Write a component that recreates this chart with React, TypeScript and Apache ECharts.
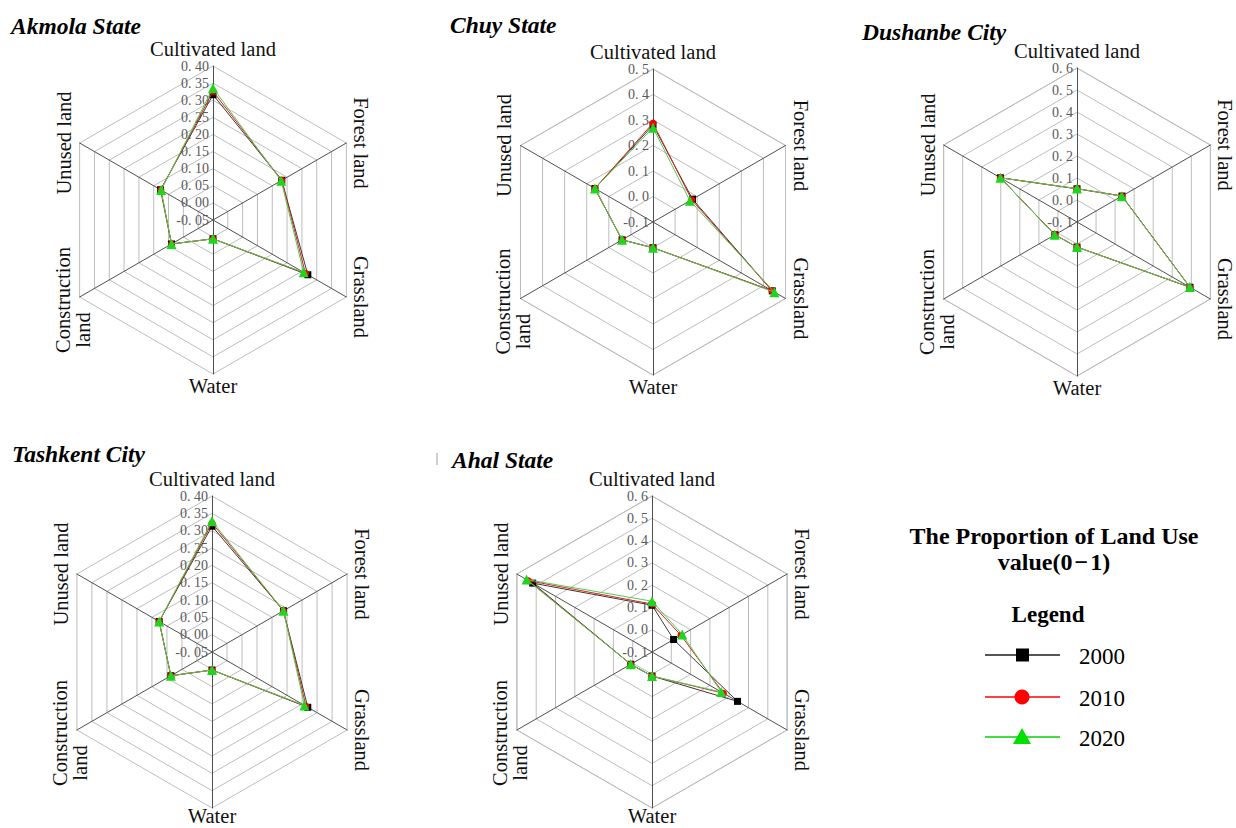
import React, { useEffect, useRef } from 'react';
import * as echarts from 'echarts';

// Land-use categories, in reading order
const categories = ['Cultivated land', 'Forest land', 'Grassland', 'Water', 'Construction land', 'Unused land'];
const years = ['2000', '2010', '2020'];
const regionNames = ['Akmola State', 'Chuy State', 'Dushanbe City', 'Tashkent City', 'Ahal State'];

// Proportion of each land-use type: [Cultivated, Forest, Grassland, Water, Construction, Unused]
const akmola2000 = [0.316, 0.182, 0.270, 0.005, 0.090, 0.127];
const akmola2010 = [0.326, 0.182, 0.262, 0.005, 0.090, 0.126];
const akmola2020 = [0.336, 0.180, 0.256, 0.005, 0.090, 0.125];

const chuy2000 = [0.280, 0.079, 0.440, 0.001, 0.040, 0.163];
const chuy2010 = [0.288, 0.075, 0.438, 0.001, 0.040, 0.163];
const chuy2020 = [0.270, 0.067, 0.450, 0.001, 0.040, 0.163];

const dushanbe2000 = [0.051, 0.136, 0.493, 0.014, 0.016, 0.302];
const dushanbe2010 = [0.051, 0.136, 0.493, 0.014, 0.016, 0.302];
const dushanbe2020 = [0.052, 0.135, 0.492, 0.014, 0.017, 0.302];

const tashkent2000 = [0.313, 0.188, 0.269, 0.002, 0.087, 0.126];
const tashkent2010 = [0.322, 0.188, 0.263, 0.002, 0.087, 0.126];
const tashkent2020 = [0.328, 0.188, 0.258, 0.002, 0.087, 0.126];

const ahal2000 = [0.110, 0.012, 0.343, 0.008, 0.010, 0.518];
const ahal2010 = [0.115, 0.050, 0.270, 0.008, 0.010, 0.540];
const ahal2020 = [0.128, 0.057, 0.259, 0.008, 0.010, 0.550];

const regionValues = [
  [akmola2000, akmola2010, akmola2020],
  [chuy2000, chuy2010, chuy2020],
  [dushanbe2000, dushanbe2010, dushanbe2020],
  [tashkent2000, tashkent2010, tashkent2020],
  [ahal2000, ahal2010, ahal2020],
];

// Radial axis range per region
const axisMin = [-0.05, -0.1, -0.1, -0.05, -0.1];
const axisMax = [0.4, 0.5, 0.6, 0.4, 0.6];
const axisStep = [0.05, 0.1, 0.1, 0.05, 0.1];
const labelDigits = [2, 1, 1, 2, 1];

// ---- layout ----
const W = 1236;
const H = 828;
const centers: [number, number][] = [
  [213, 220],
  [653, 222],
  [1077, 222],
  [212, 652],
  [652, 652],
];
const radii = [154, 153, 154, 156, 156];
const titlePos: [number, number][] = [
  [11, 26],
  [450, 25],
  [862, 32],
  [12, 454],
  [452, 460],
];

// ECharts lays indicators counter-clockwise from the top
const radarOrder = [0, 5, 4, 3, 2, 1];

const yearStyle = [
  { line: '#3a3a3a', fill: '#000000', symbol: 'rect', size: 7 },
  { line: '#e02020', fill: '#ff0000', symbol: 'circle', size: 7 },
  { line: '#4fcf4f', fill: '#1ed61e', symbol: 'triangle', size: 10 },
];

const serif = '"Liberation Serif", "Times New Roman", serif';

function tickFormatter(digits: number) {
  return (v: number) => {
    let n = Number(v);
    if (Math.abs(n) < 1e-9) n = 0;
    const s = n.toFixed(digits);
    return s.replace('.', '. ');
  };
}

function buildOption() {
  const radar = regionNames.map((_, r) => ({
    center: centers[r],
    radius: radii[r],
    startAngle: 90,
    shape: 'polygon',
    splitNumber: Math.round((axisMax[r] - axisMin[r]) / axisStep[r]),
    indicator: radarOrder.map((ci, k) => {
      const ind: any = { name: categories[ci], min: axisMin[r], max: axisMax[r] };
      if (k === 0) {
        ind.axisLabel = {
          show: true,
          color: '#5a5a5a',
          fontSize: 14,
          fontFamily: serif,
          margin: 4,
          formatter: tickFormatter(labelDigits[r]),
        };
      }
      return ind;
    }),
    axisName: { show: false },
    axisLine: { lineStyle: { color: '#505050', width: 1 } },
    axisTick: { show: false },
    axisLabel: { show: false },
    splitLine: { lineStyle: { color: '#bdbdbd', width: 1 } },
    splitArea: { show: false },
  }));

  const series: any[] = [];
  regionValues.forEach((vals, r) => {
    vals.forEach((v, y) => {
      const st = yearStyle[y];
      series.push({
        type: 'radar',
        radarIndex: r,
        name: years[y],
        z: 2 + y,
        symbol: st.symbol,
        symbolSize: st.size,
        lineStyle: { color: st.line, width: 1 },
        itemStyle: { color: st.fill, borderWidth: 0 },
        data: [{ name: years[y], value: radarOrder.map((i) => v[i]) }],
      });
    });
  });

  const graphic: any[] = [];
  const nameStyle = { fontFamily: serif, fontSize: 20.5, fill: '#111' };
  regionNames.forEach((title, r) => {
    const [cx, cy] = centers[r];
    const R = radii[r];
    const hx = R * Math.cos(Math.PI / 6);
    const hy = R * 0.5;
    graphic.push({
      type: 'text', x: titlePos[r][0], y: titlePos[r][1],
      style: { text: title, fontFamily: serif, fontSize: 23.5, fontWeight: 'bold', fontStyle: 'italic', fill: '#000', align: 'left', verticalAlign: 'middle' },
    });
    // axis names around the hexagon
    graphic.push({ type: 'text', x: cx, y: cy - R - 17, style: { ...nameStyle, text: categories[0], align: 'center', verticalAlign: 'middle' } });
    graphic.push({ type: 'text', x: cx + hx + 15, y: cy - hy, rotation: -Math.PI / 2, style: { ...nameStyle, text: categories[1], align: 'center', verticalAlign: 'middle' } });
    graphic.push({ type: 'text', x: cx + hx + 15, y: cy + hy, rotation: -Math.PI / 2, style: { ...nameStyle, text: categories[2], align: 'center', verticalAlign: 'middle' } });
    graphic.push({ type: 'text', x: cx, y: Math.min(cy + R + 12, H - 12), style: { ...nameStyle, text: categories[3], align: 'center', verticalAlign: 'middle' } });
    const [c1, c2] = categories[4].split(' ');
    graphic.push({ type: 'text', x: cx - hx - 17, y: cy + hy + 3, rotation: Math.PI / 2, style: { ...nameStyle, text: c1, align: 'center', verticalAlign: 'middle' } });
    graphic.push({ type: 'text', x: cx - hx + 3, y: cy + hy + 33, rotation: Math.PI / 2, style: { ...nameStyle, text: c2, align: 'center', verticalAlign: 'middle' } });
    graphic.push({ type: 'text', x: cx - hx - 16, y: cy - hy, rotation: Math.PI / 2, style: { ...nameStyle, text: categories[5], align: 'center', verticalAlign: 'middle' } });
  });

  // stray rule left of the Ahal title
  graphic.push({ type: 'line', shape: { x1: 437, y1: 453, x2: 437, y2: 465 }, style: { stroke: '#cfcfcf', lineWidth: 2 } });

  // legend block
  const boldStyle = { fontFamily: serif, fontSize: 24, fontWeight: 'bold', fill: '#000', align: 'center', verticalAlign: 'middle' };
  graphic.push({ type: 'text', x: 1054, y: 536, style: { ...boldStyle, text: 'The Proportion of Land Use' } });
  graphic.push({ type: 'text', x: 1054, y: 562, style: { ...boldStyle, text: 'value(0\u200A\u2212\u200A1)' } });
  graphic.push({ type: 'text', x: 1048, y: 614, style: { ...boldStyle, fontSize: 23, text: 'Legend' } });
  const rowY = [655, 697, 737];
  const legLine = ['#555555', '#ff4040', '#44dd44'];
  years.forEach((yr, i) => {
    const y = rowY[i];
    graphic.push({ type: 'line', shape: { x1: 985, y1: y, x2: 1060, y2: y }, style: { stroke: legLine[i], lineWidth: 2 } });
    if (i === 0) {
      graphic.push({ type: 'rect', shape: { x: 1016, y: y - 6.5, width: 13, height: 13 }, style: { fill: '#000' } });
    } else if (i === 1) {
      graphic.push({ type: 'circle', shape: { cx: 1022, cy: y, r: 7.5 }, style: { fill: '#ff0000' } });
    } else {
      graphic.push({ type: 'polygon', shape: { points: [[1022, y - 9], [1031, y + 7], [1013, y + 7]] }, style: { fill: '#00e000' } });
    }
    graphic.push({ type: 'text', x: 1079, y: y + 1, style: { text: yr, fontFamily: serif, fontSize: 23, fill: '#000', align: 'left', verticalAlign: 'middle' } });
  });

  return {
    animation: false,
    backgroundColor: '#ffffff',
    radar,
    series,
    graphic,
  };
}

export default function App() {
  const ref = useRef<HTMLDivElement>(null);
  useEffect(() => {
    document.body.style.margin = '0';
    if (!ref.current) return;
    const chart = echarts.init(ref.current, undefined, { renderer: 'svg' });
    chart.setOption(buildOption() as any);
    return () => chart.dispose();
  }, []);
  return <div ref={ref} style={{ width: W, height: H }} />;
}
